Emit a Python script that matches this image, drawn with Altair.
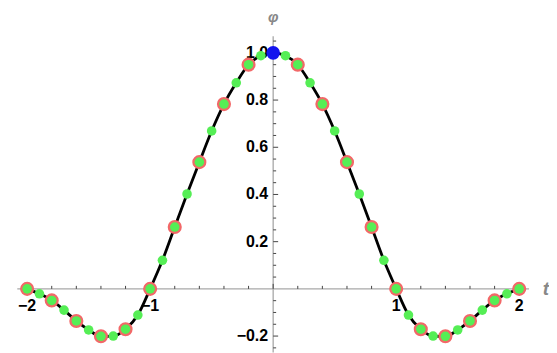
import altair as alt
import pandas as pd

# curve samples (t, phi)
t_vals = [-2.0, -1.9, -1.8, -1.7, -1.6, -1.5, -1.4, -1.3, -1.2, -1.1,
          -1.0, -0.9, -0.8, -0.7, -0.6, -0.5, -0.4, -0.3, -0.2, -0.1,
          0.0, 0.1, 0.2, 0.3, 0.4, 0.5, 0.6, 0.7, 0.8, 0.9,
          1.0, 1.1, 1.2, 1.3, 1.4, 1.5, 1.6, 1.7, 1.8, 1.9, 2.0]
phi_vals = [0.0, -0.021, -0.049, -0.090, -0.136, -0.174, -0.201, -0.200, -0.171, -0.111,
            0.0, 0.121, 0.262, 0.402, 0.537, 0.669, 0.783, 0.873, 0.950, 0.988,
            1.0, 0.988, 0.950, 0.873, 0.783, 0.669, 0.537, 0.402, 0.262, 0.121,
            0.0, -0.111, -0.171, -0.200, -0.201, -0.174, -0.136, -0.090, -0.049, -0.021, 0.0]

# red-circled samples
red_t = [-2.0, -1.8, -1.6, -1.4, -1.2, -1.0, -0.8, -0.6, -0.4, -0.2,
         0.2, 0.4, 0.6, 0.8, 1.0, 1.2, 1.4, 1.6, 1.8, 2.0]
red_phi = [0.0, -0.049, -0.136, -0.201, -0.171, 0.0, 0.262, 0.537, 0.783, 0.950,
           0.950, 0.783, 0.537, 0.262, 0.0, -0.171, -0.201, -0.136, -0.049, 0.0]

# highlighted sample
blue_t = [0.0]
blue_phi = [1.0]

# axis ticks and labels
x_major_ticks = [-2, -1, 0, 1, 2]
x_minor_ticks = [-1.8, -1.6, -1.4, -1.2, -0.8, -0.6, -0.4, -0.2,
                 0.2, 0.4, 0.6, 0.8, 1.2, 1.4, 1.6, 1.8]
x_label_vals = [-2, -1, 1, 2]
x_label_txt = ["\u22122", "\u22121", "1", "2"]
y_major_ticks = [-0.2, 0.2, 0.4, 0.6, 0.8, 1.0]
y_minor_ticks = [-0.25, -0.15, -0.1, -0.05, 0.05, 0.1, 0.15, 0.25, 0.3, 0.35,
                 0.45, 0.5, 0.55, 0.65, 0.7, 0.75, 0.85, 0.9, 0.95, 1.05]
y_label_vals = [-0.2, 0.2, 0.4, 0.6, 0.8, 1.0]
y_label_txt = ["\u22120.2", "0.2", "0.4", "0.6", "0.8", "1.0"]

X_DOM = [-2.08, 2.08]
Y_DOM = [-0.27, 1.07]

FONT = "Liberation Sans"
AX = "#a8a8a8"
TK = "#444444"


def X(f):
    return alt.X(f, type="quantitative", scale=alt.Scale(domain=X_DOM, nice=False, zero=False), axis=None)


def Y(f):
    return alt.Y(f, type="quantitative", scale=alt.Scale(domain=Y_DOM, nice=False, zero=False), axis=None)


curve = pd.DataFrame({"t": t_vals, "phi": phi_vals})
red = pd.DataFrame({"t": red_t, "phi": red_phi})
blue = pd.DataFrame({"t": blue_t, "phi": blue_phi})

yline_df = pd.DataFrame({"x": [0.0], "y": [Y_DOM[0]], "y2": [Y_DOM[1]]})
xline_df = pd.DataFrame({"y": [0.0], "x": [X_DOM[0]], "x2": [X_DOM[1]]})

y_axis_line = alt.Chart(yline_df).mark_rule(color=AX, strokeWidth=1.3).encode(
    x=X("x"), y=Y("y"), y2="y2:Q")
x_axis_line = alt.Chart(xline_df).mark_rule(color=AX, strokeWidth=1.3).encode(
    y=Y("y"), x=X("x"), x2="x2:Q")

xmaj_df = pd.DataFrame({"v": x_major_ticks, "z": [0.0] * len(x_major_ticks)})
xmin_df = pd.DataFrame({"v": x_minor_ticks, "z": [0.0] * len(x_minor_ticks)})
ymaj_df = pd.DataFrame({"v": y_major_ticks, "z": [0.0] * len(y_major_ticks)})
ymin_df = pd.DataFrame({"v": y_minor_ticks, "z": [0.0] * len(y_minor_ticks)})

xmaj = alt.Chart(xmaj_df).mark_rule(color=TK, strokeWidth=1, y2Offset=-5).encode(
    x=X("v"), y=Y("z"), y2="z:Q")
xmin = alt.Chart(xmin_df).mark_rule(color=TK, strokeWidth=1, y2Offset=-3).encode(
    x=X("v"), y=Y("z"), y2="z:Q")
ymaj = alt.Chart(ymaj_df).mark_rule(color=TK, strokeWidth=1, x2Offset=5).encode(
    y=Y("v"), x=X("z"), x2="z:Q")
ymin = alt.Chart(ymin_df).mark_rule(color=TK, strokeWidth=1, x2Offset=3).encode(
    y=Y("v"), x=X("z"), x2="z:Q")

xlab_df = pd.DataFrame({"v": x_label_vals, "z": [0.0] * len(x_label_vals), "s": x_label_txt})
ylab_df = pd.DataFrame({"v": y_label_vals, "z": [0.0] * len(y_label_vals), "s": y_label_txt})

xlab = alt.Chart(xlab_df).mark_text(
    font=FONT, fontWeight="bold", fontSize=16, color="black", baseline="alphabetic", dy=22, align="center"
).encode(x=X("v"), y=Y("z"), text="s:N")
ylab = alt.Chart(ylab_df).mark_text(
    font=FONT, fontWeight="bold", fontSize=16, color="black", baseline="middle", dx=-5, align="right"
).encode(y=Y("v"), x=X("z"), text="s:N")

t_df = pd.DataFrame({"x": [X_DOM[1]], "y": [0.0], "s": ["t"]})
phi_df = pd.DataFrame({"x": [0.0], "y": [Y_DOM[1]], "s": ["\u03c6"]})

t_title = alt.Chart(t_df).mark_text(
    font=FONT, fontWeight="bold", fontStyle="italic", fontSize=19, color="#888888",
    baseline="middle", align="center", dx=17
).encode(x=X("x"), y=Y("y"), text="s:N")
phi_title = alt.Chart(phi_df).mark_text(
    font=FONT, fontWeight="bold", fontStyle="italic", fontSize=15, color="#888888",
    baseline="middle", align="center", dy=-19
).encode(x=X("x"), y=Y("y"), text="s:N")

line = alt.Chart(curve).mark_line(color="black", strokeWidth=2.8, interpolate="monotone").encode(
    x=X("t"), y=Y("phi"))
red_pts = alt.Chart(red).mark_circle(color="#f26868", opacity=1, size=200).encode(
    x=X("t"), y=Y("phi"))
green_pts = alt.Chart(curve).mark_circle(color="#55ee55", opacity=1, size=92).encode(
    x=X("t"), y=Y("phi"))
blue_pts = alt.Chart(blue).mark_circle(color="#1414ee", opacity=1, size=185).encode(
    x=X("t"), y=Y("phi"))

chart = alt.layer(
    y_axis_line, x_axis_line, xmaj, xmin, ymaj, ymin, xlab, ylab, t_title, phi_title,
    line, red_pts, green_pts, blue_pts
).properties(
    width=513, height=317,
    autosize=alt.AutoSizeParams(type="none"),
    padding={"left": 9.3, "top": 28, "right": 20, "bottom": 0},
).configure_view(stroke=None)

chart.save("out.html", embed_options={"renderer": "svg", "actions": False})
